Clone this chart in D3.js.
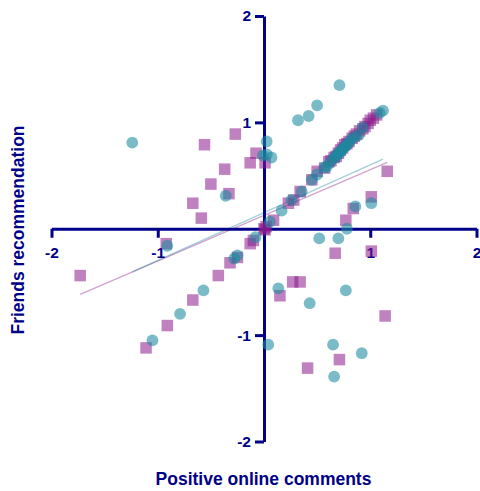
<!DOCTYPE html>
<html>
<head>
<meta charset="utf-8">
<script src="https://cdn.jsdelivr.net/npm/d3@7"></script>
<style>
  html, body { margin: 0; padding: 0; background: #fff; }
  svg { display: block; }
</style>
</head>
<body>
<svg id="chart" width="480" height="491"></svg>
<script>
// Purple series (squares): [positive online comments, friends recommendation]
const squareX = [-0.56, -0.27, -0.075, -0.13, 0.01, -0.37, -0.50, -0.33, -0.67, -0.59,
  1.16, 1.01, 0.84, 0.77, 0.67, 1.01, 0.27, 0.34, 0.15, 1.14, 0.71, 0.41, -0.92, -1.73,
  -0.13, -0.10, -0.25, -0.32, -0.43, -0.67, -0.91, -1.11,
  0.00, 0.01, 0.02, 0.09, 0.23, 0.28, 0.34, 0.45, 0.50, 0.57, 0.61, 0.63, 0.66, 0.68,
  0.70, 0.72, 0.74, 0.76, 0.78, 0.80, 0.83, 0.85, 0.87, 0.90, 0.93, 0.95, 0.98, 1.00, 1.03, 1.06];
const squareY = [0.79, 0.89, 0.71, 0.62, 0.62, 0.56, 0.42, 0.33, 0.24, 0.10,
  0.54, 0.30, 0.19, 0.08, -0.23, -0.21, -0.50, -0.50, -0.63, -0.82, -1.23, -1.31, -0.14, -0.44,
  -0.14, -0.11, -0.27, -0.32, -0.44, -0.67, -0.91, -1.12,
  0.00, -0.01, 0.02, 0.08, 0.24, 0.27, 0.35, 0.46, 0.54, 0.57, 0.63, 0.64, 0.67, 0.68,
  0.71, 0.74, 0.76, 0.79, 0.80, 0.82, 0.85, 0.87, 0.89, 0.92, 0.94, 0.96, 0.99, 1.02, 1.04, 1.07];

// Teal series (circles)
const circleX = [-1.24, 0.025, -0.01, 0.07, 0.025, -0.36,
  0.71, 0.50, 0.42, 0.32, 1.12,
  1.01, 0.86, 0.78, 0.52, 0.70,
  0.135, 0.43, 0.77, 0.04, 0.65, 0.92, 0.66,
  -0.91, -0.57, -0.79, -1.05, -0.25, -0.28, -0.08,
  0.056, 0.166, 0.26, 0.355, 0.45, 0.50, 0.57, 0.59, 0.62, 0.65, 0.67, 0.69, 0.70, 0.72,
  0.73, 0.75, 0.76, 0.78, 0.80, 0.82, 0.85, 0.89, 0.93, 1.09];
const circleY = [0.81, 0.82, 0.69, 0.67, 0.70, 0.31,
  1.35, 1.16, 1.06, 1.02, 1.11,
  0.24, 0.21, 0.00, -0.09, -0.09,
  -0.56, -0.70, -0.58, -1.09, -1.09, -1.17, -1.39,
  -0.16, -0.58, -0.80, -1.05, -0.25, -0.28, -0.08,
  0.066, 0.17, 0.27, 0.35, 0.46, 0.51, 0.58, 0.58, 0.62, 0.66, 0.67, 0.70, 0.71, 0.72,
  0.74, 0.76, 0.77, 0.79, 0.81, 0.84, 0.86, 0.88, 0.95, 1.09];

// Linear fit of each series: [slope, intercept]
const squareFit = [0.43, 0.126];
const circleFit = [0.449, 0.152];

const tickValues = [-2, -1, 1, 2];
const xTitle = "Positive online comments";
const yTitle = "Friends recommendation";

const navy = "#000088";
const teal = "#1b8a9e";
const purple = "#8b1a8b";
const font = "'Liberation Sans', Arial, sans-serif";

const svg = d3.select("#chart");
const x = d3.scaleLinear().domain([-2, 2]).range([51.5, 476.5]);
const y = d3.scaleLinear().domain([-2, 2]).range([441.5, 16]);

// Fit lines spanning each series' x range
function fitLine(xs, fit) {
  const [a, b] = d3.extent(xs);
  return [[a, fit[0] * a + fit[1]], [b, fit[0] * b + fit[1]]];
}
const line = d3.line().x(d => x(d[0])).y(d => y(d[1]));
svg.append("path").attr("d", line(fitLine(squareX, squareFit)))
  .attr("fill", "none").attr("stroke", purple).attr("stroke-opacity", 0.4).attr("stroke-width", 1.4);
svg.append("path").attr("d", line(fitLine(circleX, circleFit)))
  .attr("fill", "none").attr("stroke", teal).attr("stroke-opacity", 0.4).attr("stroke-width", 1.4);

// Axes crossing at the origin
const fmt = d => String(d);
const xAxis = d3.axisBottom(x).tickValues(tickValues).tickSize(9).tickSizeOuter(0).tickPadding(9).tickFormat(fmt);
const yAxis = d3.axisLeft(y).tickValues(tickValues).tickSize(9).tickSizeOuter(0).tickPadding(4).tickFormat(fmt);

const gx = svg.append("g").attr("transform", `translate(0,${y(0)})`).call(xAxis);
const gy = svg.append("g").attr("transform", `translate(${x(0)},0)`).call(yAxis);
[gx, gy].forEach(g => {
  g.select(".domain").attr("stroke", navy).attr("stroke-width", 3);
  g.selectAll(".tick line").attr("stroke", navy).attr("stroke-width", 3);
  g.selectAll(".tick text").attr("fill", navy)
    .style("font-family", font)
    .style("font-size", "15.5px").style("font-weight", "bold");
});

// Points
const sq = 11.5;
svg.append("g").selectAll("rect").data(d3.range(squareX.length)).join("rect")
  .attr("x", i => x(squareX[i]) - sq / 2)
  .attr("y", i => y(squareY[i]) - sq / 2)
  .attr("width", sq).attr("height", sq)
  .attr("fill", purple).attr("fill-opacity", 0.55);

svg.append("g").selectAll("circle").data(d3.range(circleX.length)).join("circle")
  .attr("cx", i => x(circleX[i]))
  .attr("cy", i => y(circleY[i]))
  .attr("r", 5.9)
  .attr("fill", teal).attr("fill-opacity", 0.58);

// Axis titles
svg.append("text").attr("x", 263.5).attr("y", 485)
  .attr("text-anchor", "middle").attr("fill", navy)
  .style("font-family", font)
  .style("font-size", "17.5px").style("font-weight", "bold")
  .text(xTitle);
svg.append("text").attr("transform", "translate(24,230) rotate(-90)")
  .attr("text-anchor", "middle").attr("fill", navy)
  .style("font-family", font)
  .style("font-size", "17.5px").style("font-weight", "bold")
  .text(yTitle);
</script>
</body>
</html>
